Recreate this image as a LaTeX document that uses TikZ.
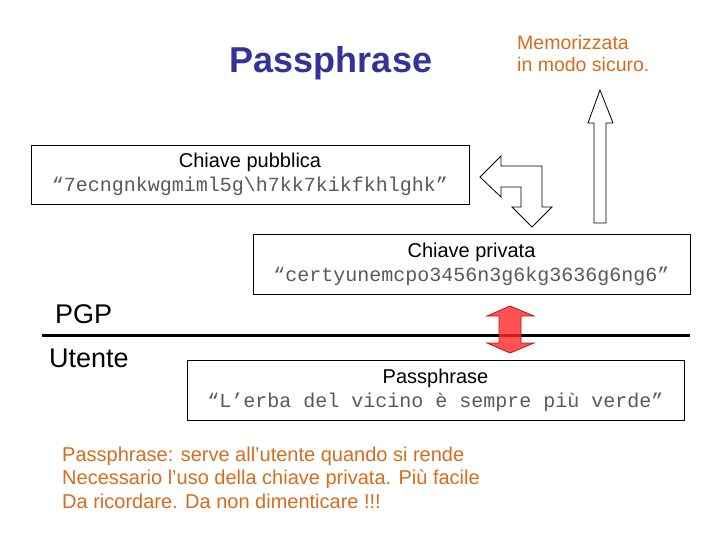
\documentclass[tikz,border=0pt]{standalone}
\usepackage{fontspec}
\setmainfont{Liberation Sans}
\setmonofont{Liberation Mono}
\usetikzlibrary{positioning}

\definecolor{titleblue}{RGB}{51,51,153}
\definecolor{noteorange}{RGB}{214,108,30}
\definecolor{arrowred}{RGB}{255,40,40}
\definecolor{arrowdark}{RGB}{190,20,20}

\begin{document}
\begin{tikzpicture}[
                x=1pt, y=-1pt,
                keybox/.style={rectangle, draw, line width=0.8pt, align=center, inner sep=0pt, font=\fontsize{20}{24}\selectfont},
                label/.style={inner sep=0pt, font=\fontsize{27}{30}\selectfont},
                note/.style={inner sep=0pt, align=left, text=noteorange},
                hollow/.style={draw, line width=0.8pt, fill=white},
                split/.style={draw, line width=3.5pt}
            ]
                \useasboundingbox (0,0) rectangle (720,540);

                % Place nodes
                \node [text=titleblue, font=\fontsize{36}{40}\selectfont\bfseries] (T_pass) at (331,63) {Passphrase};
                \node [note, anchor=north west, font=\fontsize{19.5}{22}\selectfont] (T_memo) at (517,35) {Memorizzata\\in modo sicuro.};

                \node [keybox, minimum width=438pt, minimum height=59pt] (K_pub) at (250,174.5)
                    {Chiave pubblica\\{\ttfamily\color{black!65}“7ecngnkwgmiml5g\textbackslash h7kk7kikfkhlghk”}};
                \node [keybox, minimum width=437pt, minimum height=60pt] (K_priv) at (471.5,264)
                    {Chiave privata\\{\ttfamily\color{black!65}“certyunemcpo3456n3g6kg3636g6ng6”}};
                \node [keybox, minimum width=497pt, minimum height=60pt] (K_pass) at (435.5,390)
                    {Passphrase\\{\ttfamily\color{black!65}“L’erba del vicino è sempre più verde”}};

                \node [label, anchor=base west] (L_pgp) at (55,323.5) {PGP};
                \node [label, anchor=base west] (L_user) at (49,367.5) {Utente};

                \node [note, anchor=north west, font=\fontsize{20}{23.3}\selectfont] (T_note) at (62,447)
                    {Passphrase: serve all’utente quando si rende\\Necessario l’uso della chiave privata. Più facile\\Da ricordare. Da non dimenticare !!!};

                % Draw edges
                \coordinate (S_left) at (42,335.5);
                \coordinate (S_right) at (690,335.5);
                \path [split] (S_left) -- (S_right);

                % hollow arrows
                \path [hollow] (600,90) -- (613,123) -- (606,123) -- (606,223) -- (594,223)
                    -- (594,123) -- (588,123) -- cycle;
                \path [hollow] (480,177) -- (501,156) -- (501,166) -- (542,166) -- (542,207)
                    -- (552,207) -- (532,227) -- (512,207) -- (521,207) -- (521,187)
                    -- (501,187) -- (501,197) -- cycle;

                % red double arrow on the line
                \path [draw=arrowdark, line width=0.8pt, fill=arrowred, fill opacity=0.8]
                    (510,306) -- (534,316) -- (521,316) -- (521,343) -- (534,343) -- (510,353)
                    -- (487,343) -- (499,343) -- (499,316) -- (487,316) -- cycle;
            \end{tikzpicture}
\end{document}
